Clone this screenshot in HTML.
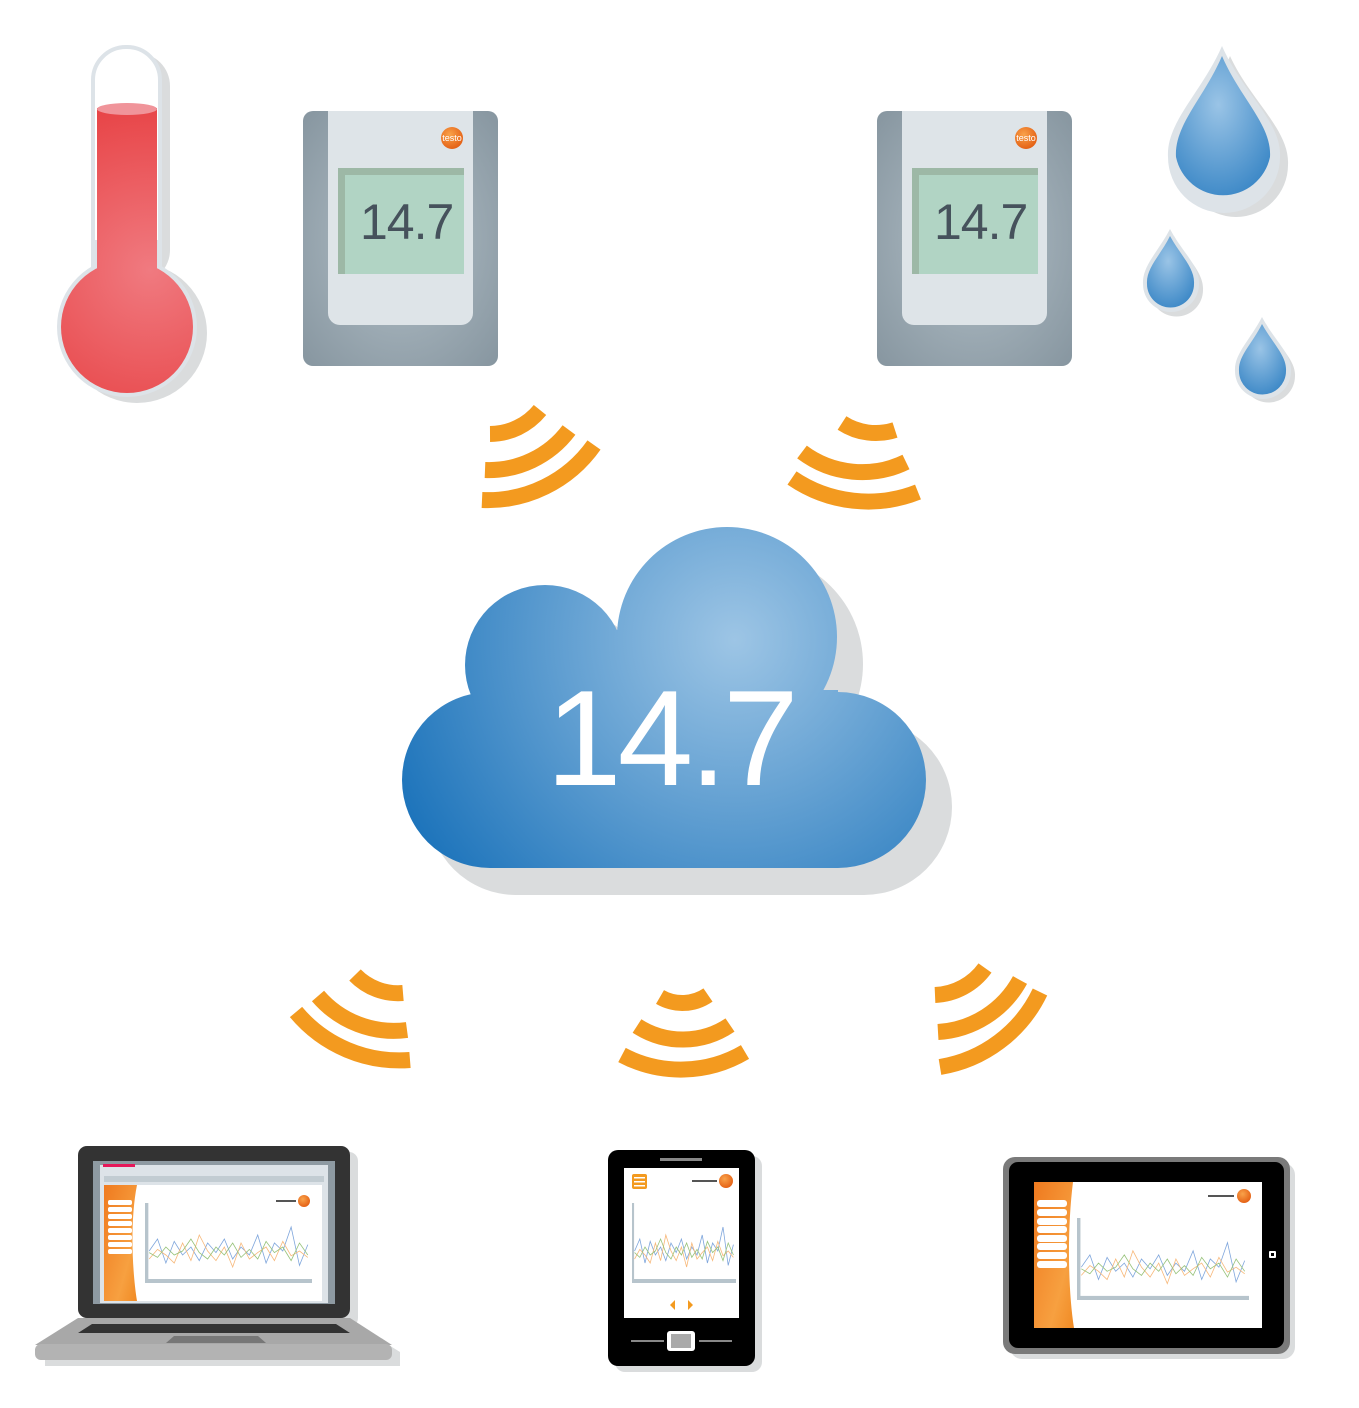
<!DOCTYPE html>
<html><head><meta charset="utf-8"><style>html,body{margin:0;padding:0;background:#fff}svg{display:block}</style></head>
<body>
<svg width="1359" height="1408" viewBox="0 0 1359 1408" xmlns="http://www.w3.org/2000/svg">
<defs>
<radialGradient id="red" gradientUnits="userSpaceOnUse" cx="150" cy="270" r="200"><stop offset="0" stop-color="#f07a80"/><stop offset="1" stop-color="#e63a3c"/></radialGradient>
<radialGradient id="dev" cx="0.5" cy="0.5" r="0.7"><stop offset="0" stop-color="#b3c0c8"/><stop offset="1" stop-color="#8796a0"/></radialGradient>
<radialGradient id="cloud" gradientUnits="userSpaceOnUse" cx="735" cy="640" r="380"><stop offset="0" stop-color="#9dc5e5"/><stop offset="1" stop-color="#1a72ba"/></radialGradient>
<radialGradient id="drop" cx="0.45" cy="0.35" r="0.8"><stop offset="0" stop-color="#9ac4e6"/><stop offset="1" stop-color="#2e7fc2"/></radialGradient>
<radialGradient id="logo" cx="0.4" cy="0.35" r="0.7"><stop offset="0" stop-color="#f9a24a"/><stop offset="1" stop-color="#e35d12"/></radialGradient>
<linearGradient id="side" x1="0" y1="0" x2="1" y2="1"><stop offset="0" stop-color="#ef7a1f"/><stop offset="0.7" stop-color="#f7a040"/><stop offset="1" stop-color="#f08a24"/></linearGradient>
<g id="chart">
<rect x="0" y="0" width="4" height="100" fill="#b7c4cc"/>
<rect x="0" y="95" width="200" height="5" fill="#b7c4cc"/>
<polyline fill="none" stroke="#7fa6dc" stroke-width="0.8" vector-effect="non-scaling-stroke" points="5,60 15,45 25,75 35,48 45,65 55,55 65,72 75,50 85,62 95,45 105,70 115,55 125,65 135,40 145,75 155,50 165,60 175,30 185,78 195,52"/>
<polyline fill="none" stroke="#f7b87a" stroke-width="0.8" vector-effect="non-scaling-stroke" points="5,70 15,58 25,65 35,75 45,50 55,72 65,40 75,60 85,72 95,55 105,80 115,50 125,70 135,62 145,55 155,72 165,48 175,66 185,60 195,68"/>
<polyline fill="none" stroke="#97c27a" stroke-width="0.8" vector-effect="non-scaling-stroke" points="5,62 15,68 25,55 35,65 45,60 55,45 65,62 75,70 85,55 95,65 105,50 115,68 125,58 135,70 145,48 155,62 165,55 175,72 185,50 195,65"/>
</g>
</defs>

<!-- Thermometer -->
<g>
<rect x="103" y="53" width="67" height="230" rx="33" fill="#dadcdd"/>
<circle cx="137" cy="333" r="70" fill="#dadcdd"/>
<rect x="93" y="47" width="67" height="230" rx="33" fill="#fff" stroke="#dde3e8" stroke-width="4"/>
<circle cx="127" cy="327" r="70" fill="#dde3e8"/>
<rect x="91" y="240" width="71" height="40" fill="#dde3e8"/>
<rect x="97" y="108" width="60" height="180" fill="url(#red)"/>
<circle cx="127" cy="327" r="66" fill="url(#red)"/>
<ellipse cx="127" cy="109" rx="30" ry="6" fill="#f0949a"/>
</g>

<!-- Devices -->
<g id="d1">
<rect x="303" y="111" width="195" height="255" rx="10" fill="url(#dev)"/>
<path d="M328 111 H473 V313 a12 12 0 0 1 -12 12 H340 a12 12 0 0 1 -12 -12 Z" fill="#dee4e8"/>
<rect x="338" y="168" width="126" height="106" fill="#9db8a6"/>
<rect x="345" y="175" width="119" height="99" fill="#b1d4c4"/>
<text x="360" y="239" font-family="Liberation Sans, sans-serif" font-size="50" fill="#46525c" letter-spacing="-1">14.7</text>
<circle cx="452" cy="138" r="11" fill="url(#logo)"/>
<text x="452" y="141" font-family="Liberation Sans, sans-serif" font-size="9" fill="#fff" text-anchor="middle">testo</text>
</g>
<use href="#d1" transform="translate(574,0)"/>

<!-- Drops -->
<g>
<path d="M1230 56 C1250 100 1290 130 1288 165 A48 48 0 0 1 1184 165 C1182 130 1212 100 1230 56 Z" fill="#dadcdd"/>
<path d="M1222 46 C1242 92 1282 122 1280 157 A54 54 0 0 1 1168 157 C1166 122 1202 92 1222 46 Z" fill="#dde3e8"/>
<path d="M1222 56 C1240 98 1272 125 1270 157 A48 48 0 0 1 1176 157 C1174 125 1204 98 1222 56 Z" fill="url(#drop)"/>
<path d="M1174 236 C1186 258 1204 272 1203 290 A26 26 0 0 1 1150 290 C1149 272 1164 258 1174 236 Z" fill="#dadcdd"/>
<path d="M1170 229 C1182 252 1200 266 1199 284 A28 28 0 0 1 1143 284 C1142 266 1158 252 1170 229 Z" fill="#dde3e8"/>
<path d="M1170 236 C1181 256 1195 268 1194 284 A23 23 0 0 1 1147 284 C1146 268 1160 256 1170 236 Z" fill="url(#drop)"/>
<path d="M1266 324 C1278 346 1296 360 1295 376 A26 26 0 0 1 1242 376 C1241 360 1256 346 1266 324 Z" fill="#dadcdd"/>
<path d="M1262 317 C1274 340 1292 354 1291 371 A28 28 0 0 1 1235 371 C1234 354 1250 340 1262 317 Z" fill="#dde3e8"/>
<path d="M1262 324 C1273 344 1287 356 1286 371 A23 23 0 0 1 1239 371 C1238 356 1252 344 1262 324 Z" fill="url(#drop)"/>
</g>

<!-- Wifi -->
<g fill="none" stroke="#f39a1f" stroke-width="16">
<path d="M490 434 A65 65 0 0 0 540 410"/>
<path d="M485 470 A100 100 0 0 0 569 430"/>
<path d="M482 500 A130 130 0 0 0 594 445"/>
<path d="M842 423 A62 62 0 0 0 895 430"/>
<path d="M802 452 A100 100 0 0 0 906 462"/>
<path d="M792 478 A135 135 0 0 0 918 492"/>
<path d="M355 975 A60 60 0 0 0 403 993"/>
<path d="M318 996 A100 100 0 0 0 407 1030"/>
<path d="M296 1012 A135 135 0 0 0 410 1060"/>
<path d="M660 997 A45 45 0 0 0 708 995"/>
<path d="M637 1026 A84 84 0 0 0 730 1025"/>
<path d="M622 1055 A126 126 0 0 0 745 1052"/>
<path d="M935 995 A65 65 0 0 0 985 968"/>
<path d="M938 1032 A100 100 0 0 0 1020 980"/>
<path d="M940 1067 A135 135 0 0 0 1040 992"/>
</g>

<!-- Cloud -->
<g transform="translate(26,27)" fill="#dadcdd">
<circle cx="490" cy="780" r="88"/><circle cx="545" cy="665" r="80"/><circle cx="727" cy="637" r="110"/><circle cx="838" cy="780" r="88"/>
<rect x="490" y="690" width="348" height="178"/><rect x="600" y="630" width="200" height="100"/>
</g>
<g fill="url(#cloud)">
<circle cx="490" cy="780" r="88"/><circle cx="545" cy="665" r="80"/><circle cx="727" cy="637" r="110"/><circle cx="838" cy="780" r="88"/>
<rect x="490" y="690" width="348" height="178"/><rect x="560" y="630" width="260" height="100"/>
</g>
<text x="546" y="785" font-family="Liberation Sans, sans-serif" font-size="136" fill="#fff" letter-spacing="-4">14.7</text>

<!-- Laptop -->
<g>
<rect x="86" y="1152" width="272" height="175" rx="9" fill="#dadcdd"/>
<path d="M45 1352 L86 1326 H358 L400 1352 V1366 H45 Z" fill="#dadcdd"/>
<rect x="78" y="1146" width="272" height="172" rx="9" fill="#333"/>
<rect x="93" y="1161" width="242" height="143" fill="#8e9aa2"/>
<rect x="100" y="1165" width="228" height="138" fill="#dde3e8"/>
<rect x="103" y="1164" width="32" height="3" fill="#e6185a"/>
<rect x="104" y="1176" width="220" height="6" fill="#c2ccd2"/>
<rect x="104" y="1185" width="218" height="116" fill="#fff"/>
<path d="M104 1185 H137 C130 1220 132 1270 137 1301 H104 Z" fill="url(#side)"/>
<g fill="#fff"><rect x="108" y="1200" width="24" height="5" rx="2"/><rect x="108" y="1207" width="24" height="5" rx="2"/><rect x="108" y="1214" width="24" height="5" rx="2"/><rect x="108" y="1221" width="24" height="5" rx="2"/><rect x="108" y="1228" width="24" height="5" rx="2"/><rect x="108" y="1235" width="24" height="5" rx="2"/><rect x="108" y="1242" width="24" height="5" rx="2"/><rect x="108" y="1249" width="24" height="5" rx="2"/></g>
<circle cx="304" cy="1201" r="6" fill="url(#logo)"/>
<rect x="276" y="1200" width="20" height="2" fill="#555"/>
<use href="#chart" transform="translate(145,1203) scale(0.835,0.8)"/>
<path d="M78 1318 H350 L392 1345 H35 Z" fill="#a8a8a8"/>
<path d="M92 1324 H336 L350 1333 H78 Z" fill="#333"/>
<path d="M174 1336 H258 L266 1343 H166 Z" fill="#777"/>
<rect x="35" y="1344" width="357" height="16" rx="6" fill="#b3b3b3"/>
</g>

<!-- Phone -->
<g>
<rect x="615" y="1156" width="147" height="216" rx="10" fill="#dadcdd"/>
<rect x="608" y="1150" width="147" height="216" rx="10" fill="#000"/>
<rect x="660" y="1158" width="42" height="3" fill="#888"/>
<rect x="624" y="1168" width="115" height="150" fill="#fff"/>
<rect x="632" y="1174" width="15" height="15" rx="2" fill="#f39a1f"/>
<g fill="#fff"><rect x="634" y="1177" width="11" height="1.5"/><rect x="634" y="1181" width="11" height="1.5"/><rect x="634" y="1185" width="11" height="1.5"/></g>
<circle cx="726" cy="1181" r="7" fill="url(#logo)"/>
<rect x="692" y="1180" width="25" height="2" fill="#555"/>
<use href="#chart" transform="translate(632,1203) scale(0.52,0.8)"/>
<path d="M675 1300 L670 1305 L675 1310 Z" fill="#f39a1f"/>
<path d="M688 1300 L693 1305 L688 1310 Z" fill="#f39a1f"/>
<rect x="631" y="1340" width="33" height="2" fill="#888"/>
<rect x="699" y="1340" width="33" height="2" fill="#888"/>
<rect x="667" y="1331" width="28" height="20" rx="3" fill="#fff"/>
<rect x="671" y="1334" width="20" height="14" fill="#aaa"/>
</g>

<!-- Tablet -->
<g>
<rect x="1010" y="1163" width="285" height="196" rx="12" fill="#dadcdd"/>
<rect x="1003" y="1157" width="287" height="197" rx="12" fill="#7a7a7a"/>
<rect x="1009" y="1162" width="275" height="186" rx="9" fill="#000"/>
<rect x="1034" y="1182" width="228" height="146" fill="#fff"/>
<path d="M1034 1182 H1073 C1067 1230 1068 1290 1074 1328 H1034 Z" fill="url(#side)"/>
<g fill="#fff"><rect x="1037" y="1200" width="30" height="7" rx="3"/><rect x="1037" y="1209" width="30" height="7" rx="3"/><rect x="1037" y="1218" width="30" height="7" rx="3"/><rect x="1037" y="1226" width="30" height="7" rx="3"/><rect x="1037" y="1235" width="30" height="7" rx="3"/><rect x="1037" y="1243" width="30" height="7" rx="3"/><rect x="1037" y="1252" width="30" height="7" rx="3"/><rect x="1037" y="1261" width="30" height="7" rx="3"/></g>
<circle cx="1244" cy="1196" r="7" fill="url(#logo)"/>
<rect x="1208" y="1195" width="26" height="2" fill="#555"/>
<use href="#chart" transform="translate(1077,1218) scale(0.86,0.82)"/>
<rect x="1269" y="1251" width="7" height="7" rx="1" fill="#fff"/>
<rect x="1271" y="1253" width="3" height="3" fill="#000"/>
</g>
</svg>
</body></html>
